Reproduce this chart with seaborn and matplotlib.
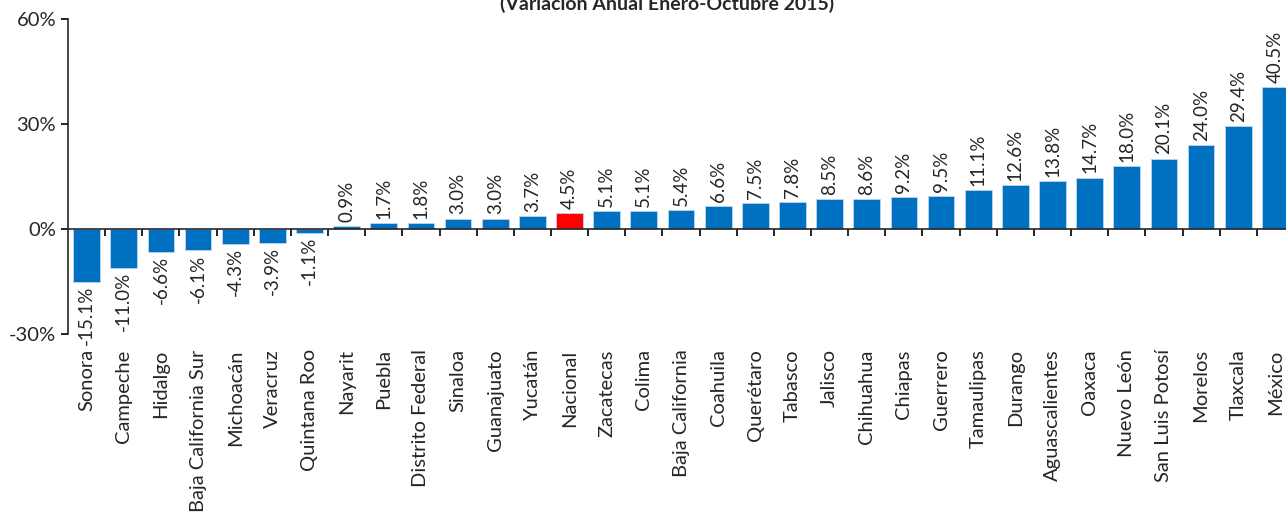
import numpy as np
import matplotlib
matplotlib.use("Agg")
import matplotlib.pyplot as plt
import seaborn as sns
from matplotlib.ticker import FuncFormatter

# ------------------------
# Data
# ------------------------
states = ["Sonora", "Campeche", "Hidalgo", "Baja California Sur", "Michoacán",
          "Veracruz", "Quintana Roo", "Nayarit", "Puebla", "Distrito Federal",
          "Sinaloa", "Guanajuato", "Yucatán", "Nacional", "Zacatecas", "Colima",
          "Baja California", "Coahuila", "Querétaro", "Tabasco", "Jalisco",
          "Chihuahua", "Chiapas", "Guerrero", "Tamaulipas", "Durango",
          "Aguascalientes", "Oaxaca", "Nuevo León", "San Luis Potosí", "Morelos",
          "Tlaxcala", "México"]
growth = [-15.1, -11.0, -6.6, -6.1, -4.3, -3.9, -1.1, 0.9, 1.7, 1.8,
          3.0, 3.0, 3.7, 4.5, 5.1, 5.1, 5.4, 6.6, 7.5, 7.8, 8.5,
          8.6, 9.2, 9.5, 11.1, 12.6, 13.8, 14.7, 18.0, 20.1, 24.0,
          29.4, 40.5]
highlight = "Nacional"

title = "(Variación Anual Enero-Octubre 2015)"

# ------------------------
# Plot
# ------------------------
sns.set_style("white")
plt.rcParams["font.family"] = ["Lato", "DejaVu Sans"]

blue, red = "#0070C0", "#FF0000"
palette = {s: (red if s == highlight else blue) for s in states}

fig = plt.figure(figsize=(12.86, 5.19), dpi=100)
ax = fig.add_axes([68 / 1286, (519 - 334) / 519, 1226 / 1286, 315 / 519])

sns.barplot(x=states, y=growth, hue=states, palette=palette, legend=False,
            saturation=1, width=0.72, edgecolor="#BDD7EE", linewidth=0.6,
            ax=ax, order=states)

ax.set_ylim(-30, 60)
ax.set_xlim(-0.5, len(states) - 0.5)
ax.set_yticks([-30, 0, 30, 60])
ax.yaxis.set_major_formatter(FuncFormatter(lambda v, p: f"{v:.0f}%"))
ax.tick_params(axis="y", direction="out", length=5, width=1.2, labelsize=14.5,
               left=True, color="black")

# category axis drawn at zero, ticks between categories
ax.spines["bottom"].set_position(("data", 0))
ax.spines["bottom"].set_linewidth(1.2)
ax.spines["left"].set_linewidth(1.2)
ax.spines["top"].set_visible(False)
ax.spines["right"].set_visible(False)
ax.set_xticks(np.arange(len(states) - 1) + 0.5)
ax.set_xticklabels([])
ax.tick_params(axis="x", direction="out", length=5, width=1.2, bottom=True,
               color="black")

# category names below the plot area
for i, name in enumerate(states):
    ax.annotate(name, xy=(i, 0), xycoords=("data", "axes fraction"),
                xytext=(0, -11), textcoords="offset points",
                rotation=90, ha="center", va="top", fontsize=14.5)

# value labels
for i, v in enumerate(growth):
    off = 3 if v >= 0 else -3
    ax.annotate(f"{v:.1f}%", xy=(i, v), xytext=(0, off), textcoords="offset points",
                rotation=90, ha="center", va="bottom" if v >= 0 else "top",
                fontsize=13.5)

ax.set_xlabel("")
ax.set_ylabel("")

fig.text(0.519, 1 - 10 / 519, title, ha="center", va="baseline",
         fontsize=14, fontweight="bold")

fig.savefig("out.png", dpi=100)
